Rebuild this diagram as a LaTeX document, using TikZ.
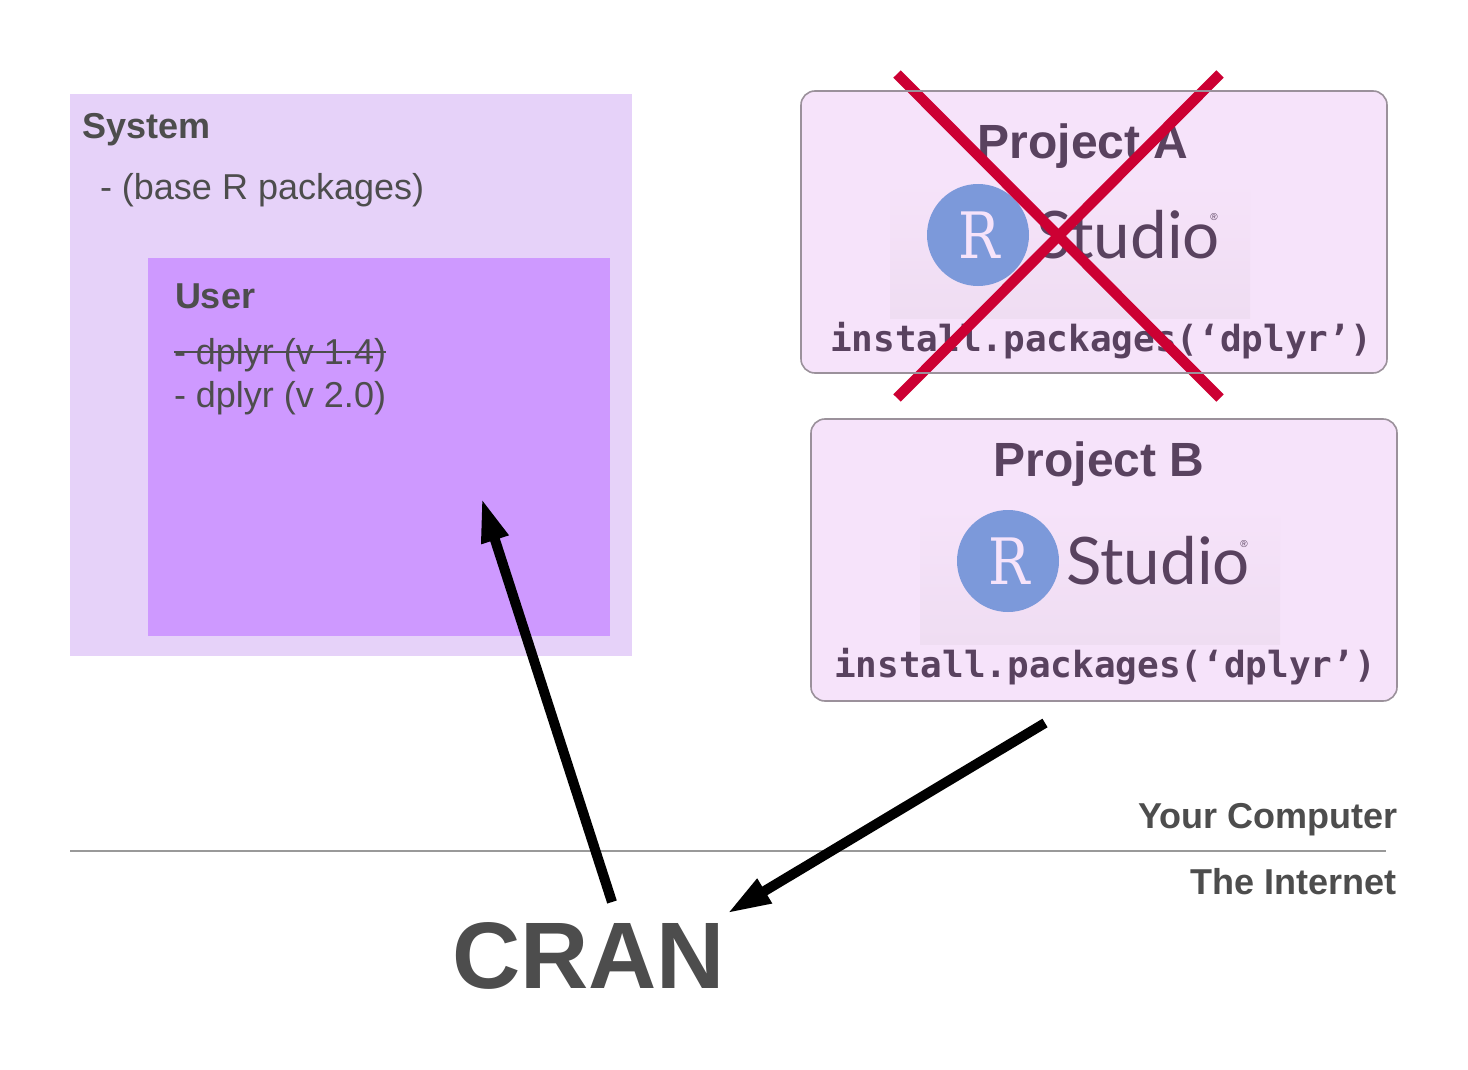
\documentclass[tikz,border=0pt]{standalone}
\usepackage{graphicx}
\usepackage{fontspec}
\setmainfont{Liberation Sans}
\newfontfamily\monob{DejaVu Sans Mono}
\newfontfamily\logofont{Lato}
\newfontfamily\logoserif{DejaVu Serif}
\usetikzlibrary{arrows.meta}
\definecolor{sysbg}{HTML}{E6D2F9}
\definecolor{userbg}{HTML}{CE99FF}
\definecolor{projbg}{HTML}{F6E3FA}
\definecolor{projline}{HTML}{9B919B}
\definecolor{projtxt}{HTML}{59425F}
\definecolor{txtgray}{HTML}{4D4D4D}
\definecolor{crossred}{HTML}{CC0033}
\definecolor{rblue}{HTML}{7C99DA}
\definecolor{logoband}{HTML}{EFDDF2}
\newcommand{\fs}[1]{\fontsize{#1}{#1}\selectfont}
\newcommand{\studioword}{Studio\kern-9.5pt\raisebox{37pt}{\fs{10}\rmfamily ®}}
\tikzset{
  lbl/.style={anchor=base west,inner sep=0pt,outer sep=0pt,text=txtgray},
  prbox/.style={rounded corners=14pt,line width=1.6pt},
  prtitle/.style={anchor=base,inner sep=0pt,text=projtxt,font=\fs{48}\bfseries},
  prcode/.style={anchor=base west,inner sep=0pt,text=projtxt,font=\fs{36}\monob\bfseries},
  logostudio/.style={anchor=base west,inner sep=0pt,text=projtxt,font=\fs{65.5}\logofont},
  logor/.style={anchor=base,inner sep=0pt,text=projbg,font=\fs{64}\logoserif},
  crossline/.style={crossred,line width=10.5pt},
  bigarrow/.style={black,line width=10pt,-{Triangle[length=44pt,width=26pt]}}
}
\begin{document}
\begin{tikzpicture}[x=1pt,y=-1pt]
\useasboundingbox (0,0) rectangle (1468,1070);
\fill[white] (0,0) rectangle (1468,1070);
% System / User
\fill[sysbg] (70,94) rectangle (632,656);
\fill[userbg] (148,258) rectangle (610,636);
\node[lbl,font=\fs{36}\bfseries] (system) at (82,139) {System};
\node[lbl,font=\fs{36}] (base) at (100,200) {- (base R packages)};
\node[lbl,font=\fs{36}\bfseries] (user) at (175,308) {User};
\node[lbl,font=\fs{36}] (old) at (174,364) {- dplyr (v 1.4)};
\node[lbl,font=\fs{36}] (new) at (174,407) {- dplyr (v 2.0)};
\coordinate (sl) at (174,352);
\coordinate (sr) at (386,352);
\draw[txtgray,line width=2pt] (sl) -- (sr);
% Project A
\fill[projbg,prbox] (801,91) rectangle (1387,373);
\shade[top color=projbg,bottom color=logoband] (890,180) rectangle (1250,318);
\node[prtitle] (pa) at (1083,159) {Project A};
\fill[rblue] (978,235) circle (51);
\node[logor] (ra) at (979,258) {\scalebox{.86}[1]{R}};
\node[logostudio] (sa) at (1036,258) {\studioword};
\node[prcode] (ca) at (830,351) {install.packages(‘dplyr’)};
\coordinate (xa) at (897,74);
\coordinate (xb) at (1220,398);
\coordinate (xc) at (1220,74);
\coordinate (xd) at (897,398);
\draw[crossline] (xa) -- (xb);
\draw[crossline] (xc) -- (xd);
\draw[projline,prbox] (801,91) rectangle (1387,373);
% Project B
\fill[projbg,prbox] (811,419) rectangle (1397,701);
\draw[projline,prbox] (811,419) rectangle (1397,701);
\shade[top color=projbg,bottom color=logoband] (920,506) rectangle (1280,644);
\node[prtitle] (pb) at (1099,476) {Project B};
\fill[rblue] (1008,561) circle (51);
\node[logor] (rb) at (1009,584) {\scalebox{.86}[1]{R}};
\node[logostudio] (sb) at (1066,584) {\studioword};
\node[prcode] (cb) at (834,677) {install.packages(‘dplyr’)};
% Divider
\coordinate (dl) at (70,851);
\coordinate (dr) at (1386,851);
\draw[black!40,line width=1.6pt] (dl) -- (dr);
\node[anchor=base east,inner sep=0pt,text=txtgray,font=\fs{36}\bfseries] (yc) at (1398,828) {Your Computer};
\node[anchor=base east,inner sep=0pt,text=txtgray,font=\fs{36}\bfseries] (ti) at (1397,894) {The Internet};
\node[lbl,font=\fs{94.5}\bfseries] (cran) at (452,988) {CRAN};
% Arrows
\coordinate (a1s) at (612,902);
\coordinate (a1e) at (481.5,498);
\coordinate (a2s) at (1045,723);
\coordinate (a2e) at (727,913.5);
\draw[bigarrow] (a1s) -- (a1e);
\draw[bigarrow] (a2s) -- (a2e);
\end{tikzpicture}
\end{document}
